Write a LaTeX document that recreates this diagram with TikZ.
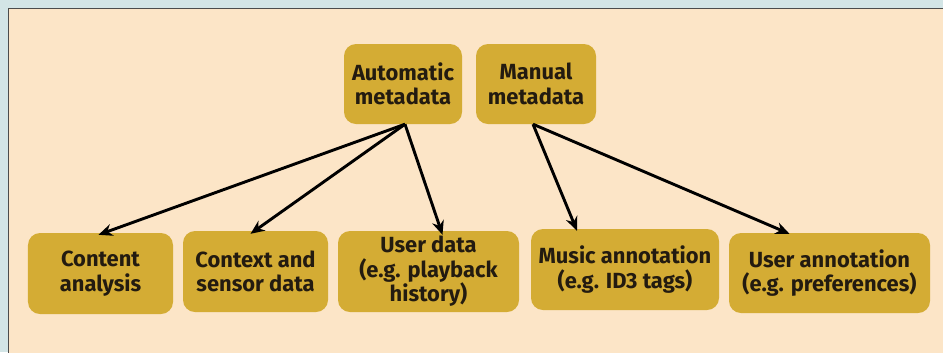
\documentclass[tikz,border=0pt]{standalone}
\usepackage{fontspec}
\setmainfont{Fira Sans}
\usetikzlibrary{arrows.meta,calc}
\definecolor{outerbg}{HTML}{D3E5E6}
\definecolor{peach}{HTML}{FCE5C7}
\definecolor{mustard}{HTML}{D4AC34}
\definecolor{ink}{HTML}{231B10}
\begin{document}
\begin{tikzpicture}[x=1bp,y=-1bp,
  box/.style={fill=mustard,rounded corners=12bp,inner sep=0pt,align=center,
    text=ink,font=\fontsize{22}{24.5}\selectfont\bfseries},
  arr/.style={draw=black,line width=2.9bp,-{Stealth[length=14bp,width=12bp]}}]
\fill[outerbg] (0,0) rectangle (943,352);
\useasboundingbox (0,0) rectangle (943,352);
\filldraw[fill=peach,draw=black!70,line width=0.8bp] (8.5,8.5) rectangle (950,360);
\node[box,minimum width=118bp,minimum height=80bp] (auto) at (403,84) {Automatic\\metadata};
\node[box,minimum width=120bp,minimum height=80bp] (man) at (536,84) {Manual\\metadata};
\node[box,minimum width=145bp,minimum height=81bp] (cont) at (100.5,273.5) {Content\\analysis};
\node[box,minimum width=145bp,minimum height=81bp] (ctx) at (255.5,271.5) {Context and\\sensor data};
\node[box,minimum width=181bp,minimum height=81bp] (udata) at (428.5,271.5) {User data\\(e.g. playback\\history)};
\node[box,minimum width=188bp,minimum height=81bp] (music) at (625,269.5) {Music annotation\\(e.g. ID3 tags)};
\node[box,minimum width=201bp,minimum height=80bp] (uann) at (829.5,273) {User annotation\\(e.g. preferences)};
\draw[arr] ([xshift=2bp]auto.south) -- ([xshift=-2bp,yshift=-2bp]cont.north);
\draw[arr] ([xshift=2bp]auto.south) -- ([xshift=-5bp,yshift=-3bp]ctx.north);
\draw[arr] ([xshift=2bp]auto.south) -- ([xshift=14bp,yshift=-4bp]udata.north);
\draw[arr] ([xshift=-3bp]man.south) -- ([xshift=-48bp,yshift=-2bp]music.north);
\draw[arr] ([xshift=-3bp]man.south) -- ([xshift=-40bp,yshift=-1bp]uann.north);
\end{tikzpicture}
\end{document}
